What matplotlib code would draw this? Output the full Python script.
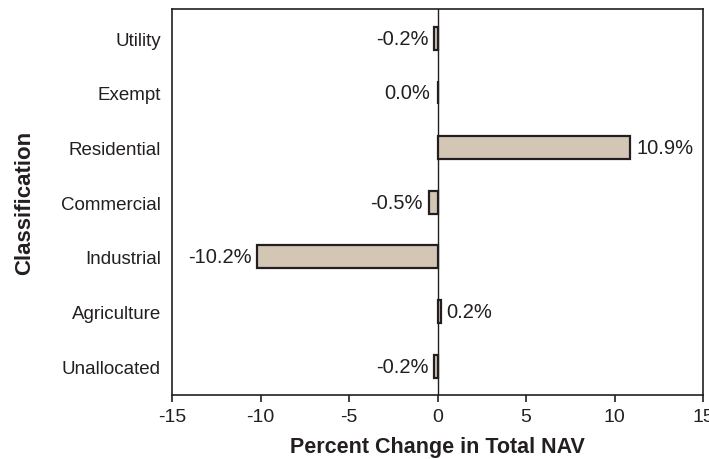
import matplotlib.pyplot as plt

plt.rcParams['font.family'] = ['Liberation Sans', 'DejaVu Sans']
plt.rcParams['axes.unicode_minus'] = False

categories = ['Utility', 'Exempt', 'Residential', 'Commercial',
              'Industrial', 'Agriculture', 'Unallocated']
values = [-0.2, 0.0, 10.9, -0.5, -10.2, 0.2, -0.2]
labels = ['-0.2%', '0.0%', '10.9%', '-0.5%', '-10.2%', '0.2%', '-0.2%']

fig = plt.figure(figsize=(7.09, 4.60), dpi=100)
ax = fig.add_axes([0.2426, 0.139, 0.749, 0.839])

ypos = list(range(len(categories)))
ax.barh(ypos, values, height=0.42, color='#d3c6b5', edgecolor='#231f20',
        linewidth=1.6, zorder=3)
ax.axvline(0, color='#231f20', linewidth=1.0, zorder=2)

for y, v, lab in zip(ypos, values, labels):
    if v > 0:
        ax.annotate(lab, (v, y), xytext=(4, 0), textcoords='offset points',
                    ha='left', va='center', fontsize=14.5, color='#231f20')
    else:
        ax.annotate(lab, (min(v, -0.1), y), xytext=(-4, 0), textcoords='offset points',
                    ha='right', va='center', fontsize=14.5, color='#231f20')

ax.set_xlim(-15, 15)
ax.set_ylim(6.53, -0.53)
ax.set_xticks([-15, -10, -5, 0, 5, 10, 15])
ax.set_yticks(ypos)
ax.set_yticklabels(categories)
ax.tick_params(axis='y', length=0, pad=8, labelsize=13.5, labelcolor='#231f20')
ax.tick_params(axis='x', direction='out', length=5, width=1.2, pad=4,
               labelsize=14, labelcolor='#231f20', color='#231f20')
for s in ax.spines.values():
    s.set_color('#231f20')
    s.set_linewidth(1.2)

ax.set_xlabel('Percent Change in Total NAV', fontsize=15.5, fontweight='bold',
              color='#231f20', labelpad=8)
ax.set_ylabel('Classification', fontsize=16, fontweight='bold',
              color='#231f20', labelpad=19)

fig.savefig('out.png', dpi=100)
